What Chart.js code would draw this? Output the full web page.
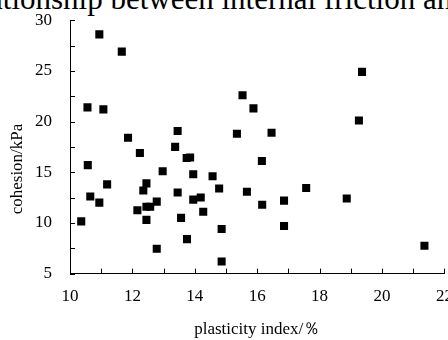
<!DOCTYPE html>
<html>
<head>
<meta charset="utf-8">
<script src="https://cdn.jsdelivr.net/npm/chart.js@4"></script>
<style>
  html, body { margin: 0; padding: 0; background: #fff; overflow: hidden; width: 448px; height: 340px; }
  #title { position: absolute; left: -54px; top: -17.5px; white-space: nowrap;
           font: 31px/31px 'Liberation Serif', 'Times New Roman', serif; color: #000; }
  #wrap { position: absolute; left: 0; top: 0; width: 480px; height: 340px; }
</style>
</head>
<body>
<div id="title">Relationship between internal friction angle and cohesion</div>
<div id="wrap"><canvas id="chart-scatter" width="480" height="340"></canvas></div>
<script>
// plasticity index (%) and cohesion (kPa)
const plasticity = [10.94, 11.66, 10.56, 11.07, 15.53, 13.45, 15.35, 11.86, 12.24, 13.37,
  13.74, 13.85, 19.36, 15.88, 16.46, 19.26, 16.15, 10.57, 12.97, 13.95,
  14.57, 11.19, 12.45, 12.35, 14.78, 13.45, 15.67, 10.65, 10.94, 13.95,
  14.19, 12.78, 12.45, 12.57, 12.16, 14.27, 10.36, 12.45, 13.56, 14.86,
  13.75, 12.78, 14.86, 16.16, 17.57, 16.86, 18.87, 16.86, 21.36];
const cohesion = [28.6, 26.9, 21.4, 21.2, 22.6, 19.07, 18.8, 18.4, 16.9, 17.5,
  16.4, 16.45, 24.9, 21.3, 18.9, 20.1, 16.1, 15.7, 15.1, 14.8,
  14.6, 13.8, 13.9, 13.2, 13.4, 13.0, 13.07, 12.6, 12.0, 12.3,
  12.5, 12.1, 11.6, 11.6, 11.25, 11.1, 10.15, 10.3, 10.5, 9.4,
  8.4, 7.46, 6.2, 11.8, 13.45, 12.2, 12.4, 9.7, 7.75];

const xTicks = [10, 12, 14, 16, 18, 20, 22];
const yTicks = [5, 10, 15, 20, 25, 30];
const xMinorStep = 1;
const yMinorStep = 2.5;

const points = plasticity.map((x, i) => ({ x: x, y: cohesion[i] }));
const serif = "'Liberation Serif', 'Times New Roman', serif";
Chart.defaults.font.family = serif;
Chart.defaults.color = '#000';

// inward tick marks + rotated y title
const axisExtras = {
  id: 'axisExtras',
  afterDraw(chart) {
    const ctx = chart.ctx;
    const xs = chart.scales.x, ys = chart.scales.y;
    const area = chart.chartArea;
    ctx.save();
    ctx.strokeStyle = '#000';
    ctx.lineWidth = 1;
    ctx.beginPath();
    for (let v = xTicks[0]; v <= xTicks[xTicks.length - 1]; v += xMinorStep) {
      const px = Math.round(xs.getPixelForValue(v)) + 0.5;
      ctx.moveTo(px, area.bottom);
      ctx.lineTo(px, area.bottom - 5);
    }
    for (let v = yTicks[0]; v <= yTicks[yTicks.length - 1]; v += yMinorStep) {
      const py = Math.round(ys.getPixelForValue(v)) + 0.5;
      ctx.moveTo(area.left, py);
      ctx.lineTo(area.left + 5, py);
    }
    ctx.stroke();

    ctx.translate(18, 169);
    ctx.rotate(-Math.PI / 2);
    ctx.fillStyle = '#000';
    ctx.font = '17px ' + serif;
    ctx.textAlign = 'center';
    ctx.textBaseline = 'middle';
    ctx.fillText('cohesion/kPa', 0, 0);
    ctx.restore();
  }
};

const scatterChart = new Chart(document.getElementById('chart-scatter').getContext('2d'), {
  type: 'scatter',
  data: {
    datasets: [{
      data: points,
      pointStyle: 'rect',
      pointRadius: 5.7,
      pointHoverRadius: 5.7,
      borderWidth: 0,
      backgroundColor: '#000',
      borderColor: '#000'
    }]
  },
  options: {
    responsive: false,
    animation: false,
    layout: { padding: { left: 0, right: 35.6, top: 16.6, bottom: 0 } },
    plugins: { legend: { display: false }, tooltip: { enabled: false } },
    scales: {
      x: {
        type: 'linear',
        min: 10, max: 22,
        afterBuildTicks: s => { s.ticks = xTicks.map(v => ({ value: v })); },
        afterFit: s => { s.height = 66.4; },
        grid: { display: false },
        border: { display: true, color: '#000', width: 1 },
        ticks: { color: '#000', padding: 5, maxRotation: 0, font: { family: serif, size: 17 } },
        title: { display: true, text: 'plasticity index/％', color: '#000', padding: 0,
                 font: { family: serif, size: 17 } }
      },
      y: {
        type: 'linear',
        min: 5, max: 30,
        afterBuildTicks: s => { s.ticks = yTicks.map(v => ({ value: v })); },
        afterFit: s => { s.width = 70; },
        grid: { display: false },
        border: { display: true, color: '#000', width: 1 },
        ticks: { color: '#000', padding: 10, font: { family: serif, size: 17 } }
      }
    }
  },
  plugins: [axisExtras]
});
</script>
</body>
</html>
